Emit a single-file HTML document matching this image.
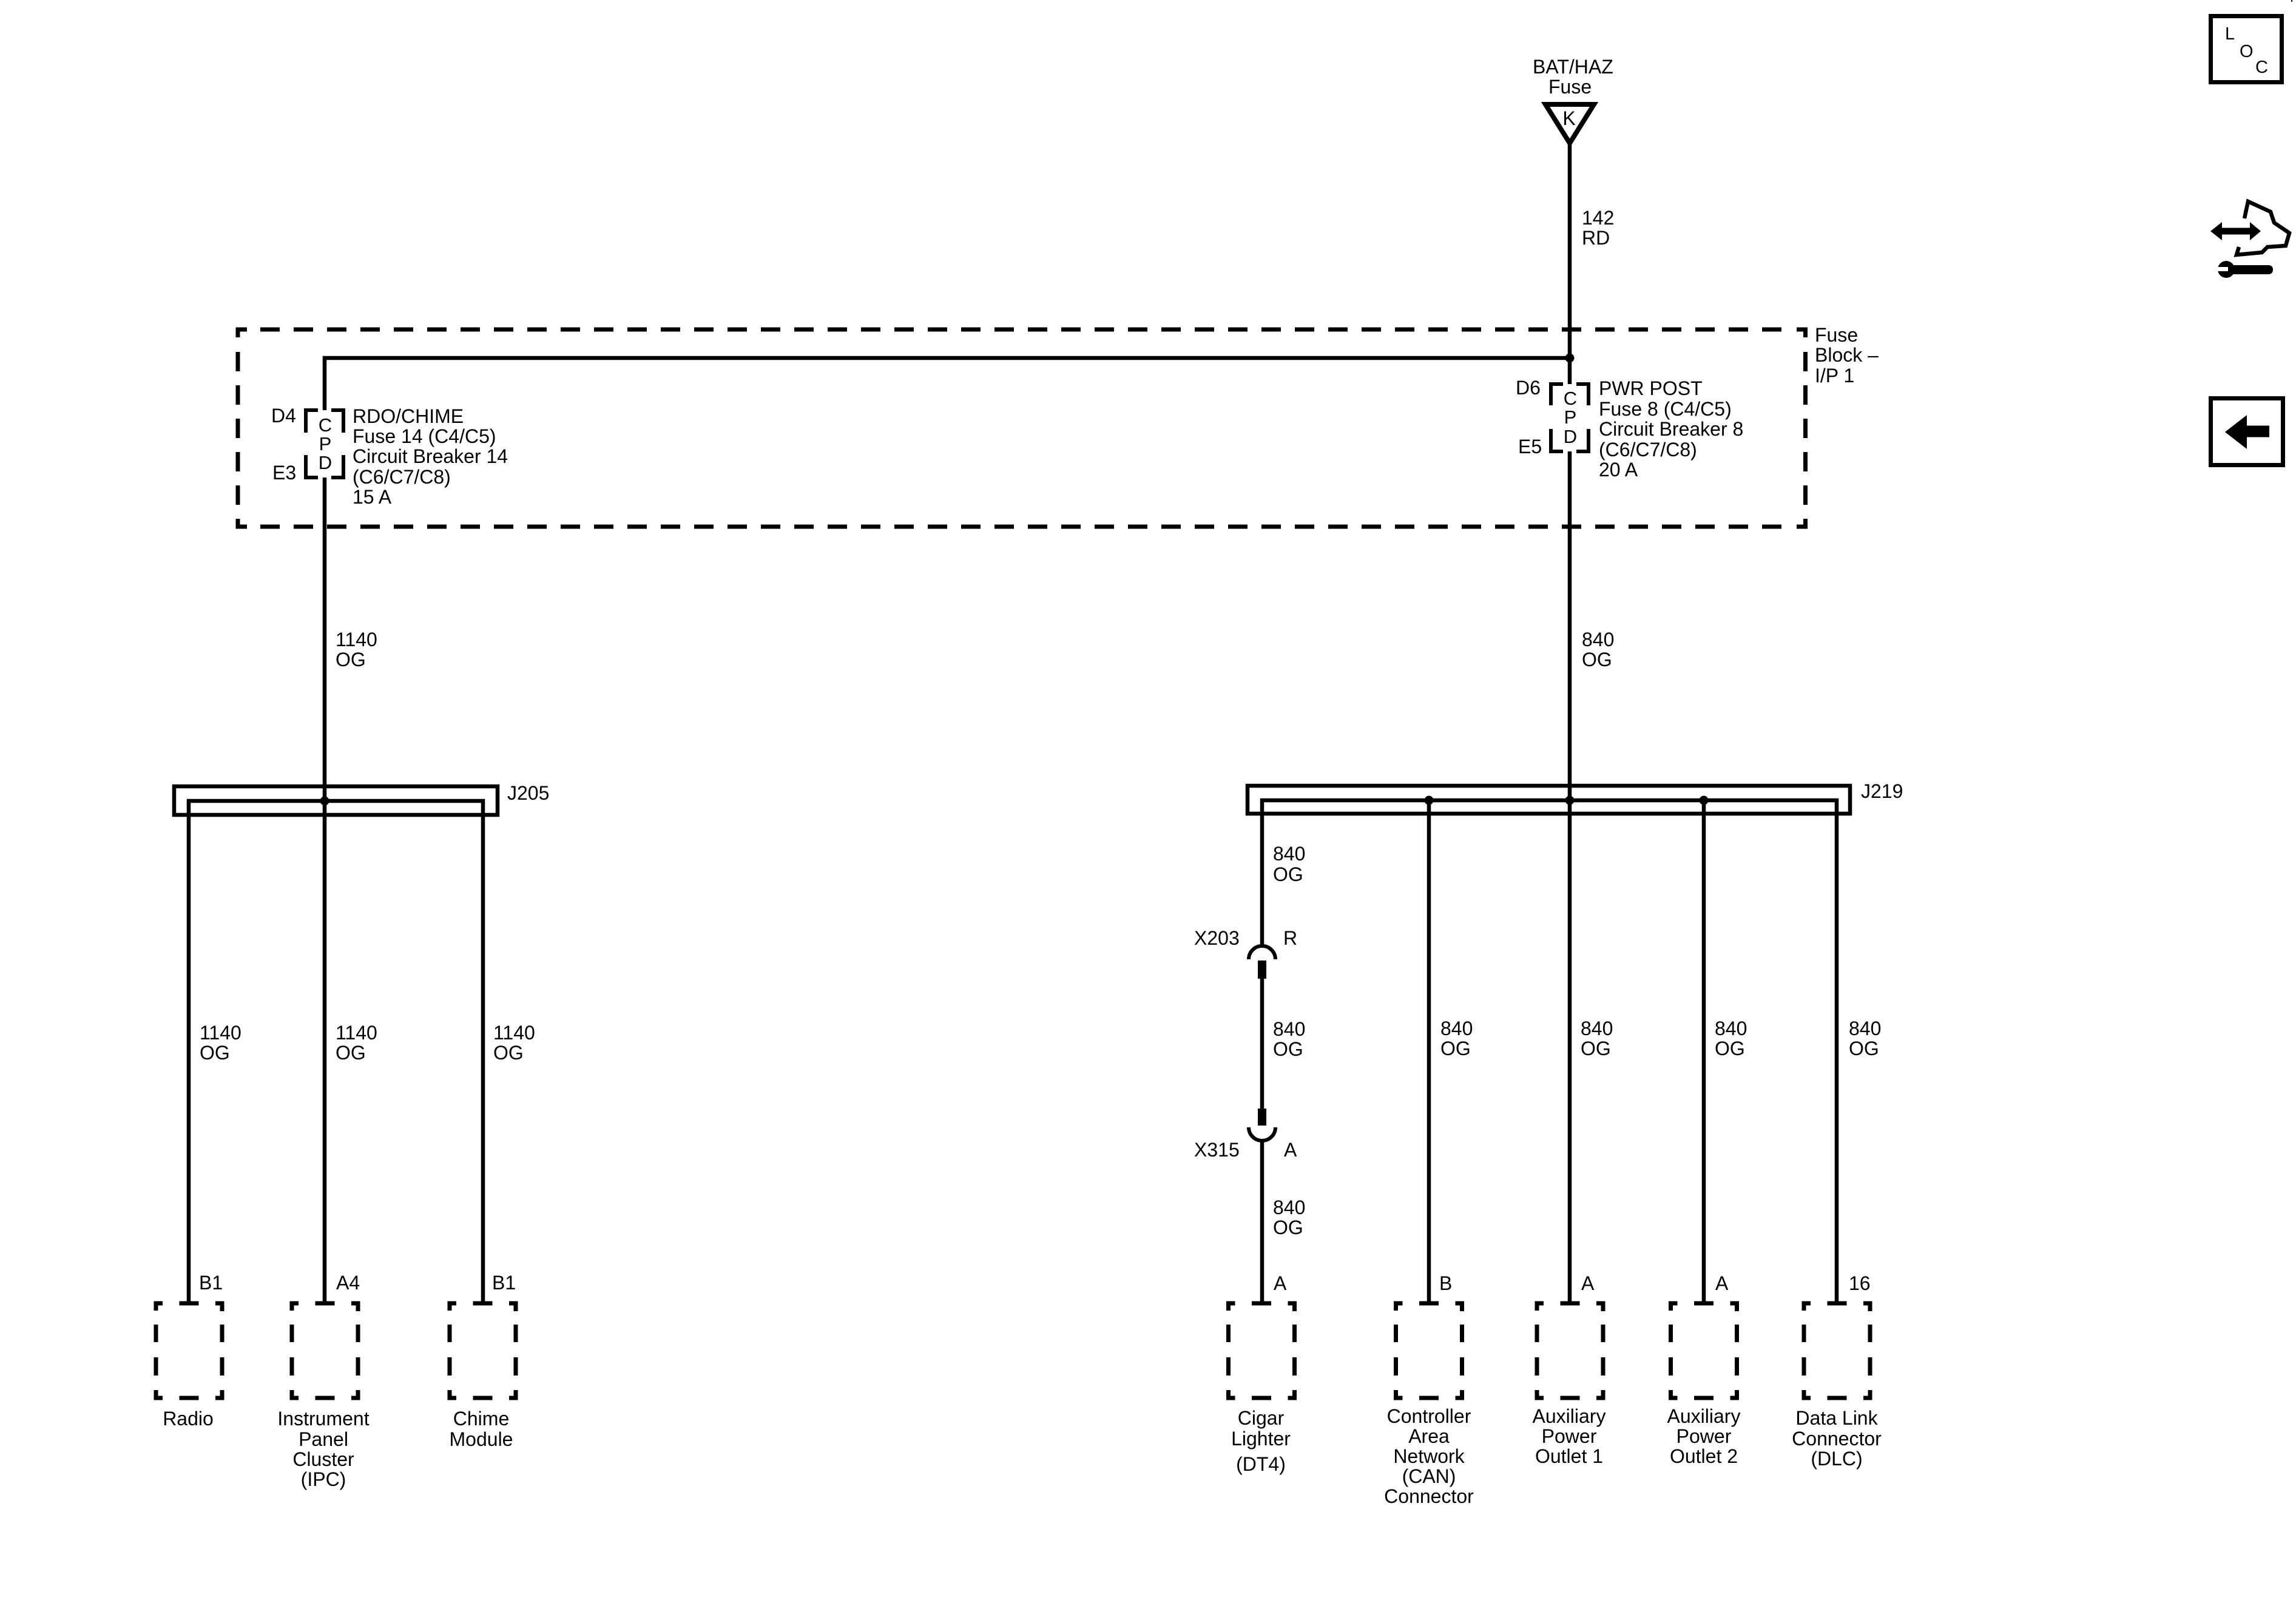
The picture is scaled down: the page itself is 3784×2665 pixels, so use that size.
<!DOCTYPE html>
<html>
<head>
<meta charset="utf-8">
<style>
html,body{margin:0;padding:0;background:#fff;}
svg{display:block;}
text{font-family:"Liberation Sans",Arial,Helvetica,sans-serif;font-size:32px;fill:#000;}
.c{text-anchor:middle;}
</style>
</head>
<body>
<svg width="3784" height="2665" viewBox="0 0 3784 2665" xmlns="http://www.w3.org/2000/svg">
<rect x="0" y="0" width="3784" height="2665" fill="#fff"/>

<!-- ===== Top source: BAT/HAZ fuse ===== -->
<text x="2526" y="121">BAT/HAZ</text>
<text x="2552" y="154">Fuse</text>
<polygon points="2547,172 2627,172 2587,236" fill="none" stroke="#000" stroke-width="8" stroke-linejoin="miter"/>
<text x="2586" y="206" class="c">K</text>
<line x1="2587" y1="238" x2="2587" y2="633" stroke="#000" stroke-width="6.5"/>
<text x="2607" y="370">142</text>
<text x="2607" y="403">RD</text>

<!-- ===== Fuse block dashed outline ===== -->
<g stroke="#000" stroke-width="7" fill="none">
  <line x1="429" y1="543" x2="2937" y2="543" stroke-dasharray="32 23"/>
  <line x1="429" y1="868" x2="2937" y2="868" stroke-dasharray="32 23"/>
  <line x1="392" y1="580" x2="392" y2="832" stroke-dasharray="32 23"/>
  <line x1="2975.5" y1="580" x2="2975.5" y2="832" stroke-dasharray="32 23"/>
  <path d="M392,556 V543 H407"/>
  <path d="M2961,543 H2975.5 V556"/>
  <path d="M392,855 V868 H407"/>
  <path d="M2961,868 H2975.5 V855"/>
</g>
<text x="2991" y="563">Fuse</text>
<text x="2991" y="596">Block –</text>
<text x="2991" y="630">I/P 1</text>

<!-- internal bus -->
<path d="M535,676 V590 H2587" fill="none" stroke="#000" stroke-width="6.5" stroke-linejoin="miter"/>
<circle cx="2587" cy="590" r="7.5" fill="#000"/>

<!-- Left fuse (RDO/CHIME) -->
<g stroke="#000" stroke-width="6" fill="none">
  <path d="M504,713 V676 H524"/>
  <path d="M546,676 H566 V713"/>
  <path d="M504,750 V787 H524"/>
  <path d="M546,787 H566 V750"/>
</g>
<text x="536" y="711" class="c" style="font-size:31px">C</text>
<text x="536" y="742" class="c" style="font-size:31px">P</text>
<text x="536" y="773" class="c" style="font-size:31px">D</text>
<text x="447" y="696">D4</text>
<text x="449" y="790">E3</text>
<text x="581" y="697">RDO/CHIME</text>
<text x="581" y="730">Fuse 14 (C4/C5)</text>
<text x="581" y="763">Circuit Breaker 14</text>
<text x="581" y="797">(C6/C7/C8)</text>
<text x="581" y="830">15 A</text>

<!-- Right fuse (PWR POST) -->
<g stroke="#000" stroke-width="6" fill="none">
  <path d="M2556,668 V633 H2576"/>
  <path d="M2598,633 H2618 V668"/>
  <path d="M2556,707 V744 H2576"/>
  <path d="M2598,744 H2618 V707"/>
</g>
<text x="2588" y="667" class="c" style="font-size:31px">C</text>
<text x="2588" y="698" class="c" style="font-size:31px">P</text>
<text x="2588" y="730" class="c" style="font-size:31px">D</text>
<text x="2498" y="650">D6</text>
<text x="2502" y="747">E5</text>
<text x="2635" y="651">PWR POST</text>
<text x="2635" y="685">Fuse 8 (C4/C5)</text>
<text x="2635" y="718">Circuit Breaker 8</text>
<text x="2635" y="752">(C6/C7/C8)</text>
<text x="2635" y="785">20 A</text>

<!-- main vertical wires -->
<line x1="535" y1="787" x2="535" y2="2148" stroke="#000" stroke-width="6.5"/>
<line x1="2587" y1="744" x2="2587" y2="2148" stroke="#000" stroke-width="6.5"/>
<text x="553" y="1065">1140</text>
<text x="553" y="1098">OG</text>
<text x="2607" y="1065">840</text>
<text x="2607" y="1098">OG</text>

<!-- ===== J205 ===== -->
<rect x="287" y="1296" width="533" height="47" fill="none" stroke="#000" stroke-width="6.5"/>
<path d="M311,2148 V1320 H796 V2148" fill="none" stroke="#000" stroke-width="6.5" stroke-linejoin="miter"/>
<circle cx="535" cy="1320" r="7.5" fill="#000"/>
<text x="836" y="1318">J205</text>
<text x="329" y="1713">1140</text><text x="329" y="1746">OG</text>
<text x="553" y="1713">1140</text><text x="553" y="1746">OG</text>
<text x="813" y="1713">1140</text><text x="813" y="1746">OG</text>

<!-- ===== J219 ===== -->
<rect x="2056" y="1295" width="993" height="46" fill="none" stroke="#000" stroke-width="6.5"/>
<path d="M2080,1558 V1319 H3027 V2148" fill="none" stroke="#000" stroke-width="6.5" stroke-linejoin="miter"/>
<line x1="2355" y1="1319" x2="2355" y2="2148" stroke="#000" stroke-width="6.5"/>
<line x1="2808" y1="1319" x2="2808" y2="2148" stroke="#000" stroke-width="6.5"/>
<circle cx="2355" cy="1319" r="7.5" fill="#000"/>
<circle cx="2587" cy="1319" r="7.5" fill="#000"/>
<circle cx="2808" cy="1319" r="7.5" fill="#000"/>
<text x="3067" y="1315">J219</text>

<!-- X203 / X315 inline connectors -->
<path d="M2058,1581 A22,22 0 0 1 2102,1581" fill="none" stroke="#000" stroke-width="6"/>
<rect x="2073" y="1583" width="14" height="30" fill="#000"/>
<line x1="2080" y1="1613" x2="2080" y2="1827" stroke="#000" stroke-width="6.5"/>
<rect x="2073" y="1827" width="14" height="28" fill="#000"/>
<path d="M2058,1858 A22,22 0 0 0 2102,1858" fill="none" stroke="#000" stroke-width="6"/>
<line x1="2080" y1="1880" x2="2080" y2="2148" stroke="#000" stroke-width="6.5"/>

<text x="2098" y="1418">840</text><text x="2098" y="1452">OG</text>
<text x="1968" y="1557">X203</text>
<text x="2115" y="1557">R</text>
<text x="2098" y="1707">840</text><text x="2098" y="1740">OG</text>
<text x="1968" y="1906">X315</text>
<text x="2116" y="1906">A</text>
<text x="2098" y="2001">840</text><text x="2098" y="2034">OG</text>

<text x="2374" y="1706">840</text><text x="2374" y="1739">OG</text>
<text x="2605" y="1706">840</text><text x="2605" y="1739">OG</text>
<text x="2826" y="1706">840</text><text x="2826" y="1739">OG</text>
<text x="3047" y="1706">840</text><text x="3047" y="1739">OG</text>

<!-- ===== Component dashed boxes ===== -->
<defs>
  <g id="dbox" stroke="#000" stroke-width="7" fill="none">
    <path d="M-54.5,12 V0 H-43.5"/>
    <path d="M-16,0 H16"/>
    <path d="M43.5,0 H54.5 V13"/>
    <path d="M-54.5,35 V64"/>
    <path d="M-54.5,89 V119"/>
    <path d="M54.5,35 V64"/>
    <path d="M54.5,89 V119"/>
    <path d="M-54.5,143 V156 H-43.5"/>
    <path d="M-16,156 H16"/>
    <path d="M43.5,156 H54.5 V143"/>
  </g>
</defs>
<use href="#dbox" x="311.5" y="2148"/>
<use href="#dbox" x="535.5" y="2148"/>
<use href="#dbox" x="795.5" y="2148"/>
<use href="#dbox" x="2079" y="2148"/>
<use href="#dbox" x="2355" y="2148"/>
<use href="#dbox" x="2587.5" y="2148"/>
<use href="#dbox" x="2808" y="2148"/>
<use href="#dbox" x="3027.5" y="2148"/>

<!-- pin labels -->
<text x="328" y="2125">B1</text>
<text x="554" y="2125">A4</text>
<text x="811" y="2125">B1</text>
<text x="2099" y="2126">A</text>
<text x="2372" y="2126">B</text>
<text x="2606" y="2126">A</text>
<text x="2827" y="2126">A</text>
<text x="3047" y="2126">16</text>

<!-- component names -->
<text x="310" y="2349" class="c">Radio</text>

<text x="533" y="2349" class="c">Instrument</text>
<text x="533" y="2383" class="c">Panel</text>
<text x="533" y="2416" class="c">Cluster</text>
<text x="533" y="2449" class="c">(IPC)</text>

<text x="793" y="2349" class="c">Chime</text>
<text x="793" y="2383" class="c">Module</text>

<text x="2078" y="2348" class="c">Cigar</text>
<text x="2078" y="2382" class="c">Lighter</text>
<text x="2078" y="2424" class="c">(DT4)</text>

<text x="2355" y="2345" class="c">Controller</text>
<text x="2355" y="2378" class="c">Area</text>
<text x="2355" y="2411" class="c">Network</text>
<text x="2355" y="2444" class="c">(CAN)</text>
<text x="2355" y="2477" class="c">Connector</text>

<text x="2586" y="2345" class="c">Auxiliary</text>
<text x="2586" y="2378" class="c">Power</text>
<text x="2586" y="2411" class="c">Outlet 1</text>

<text x="2808" y="2345" class="c">Auxiliary</text>
<text x="2808" y="2378" class="c">Power</text>
<text x="2808" y="2411" class="c">Outlet 2</text>

<text x="3027" y="2348" class="c">Data Link</text>
<text x="3027" y="2382" class="c">Connector</text>
<text x="3027" y="2415" class="c">(DLC)</text>

<!-- ===== Right-side icons ===== -->
<rect x="3776" y="0" width="2" height="3" fill="#000"/>
<!-- LOC -->
<rect x="3643.5" y="26.5" width="117" height="109" fill="none" stroke="#000" stroke-width="7"/>
<text x="3667" y="65" style="font-size:29px">L</text>
<text x="3691" y="94" style="font-size:29px">O</text>
<text x="3717" y="120" style="font-size:29px">C</text>

<!-- hand / wrench icon -->
<polygon points="3643,381 3662,366 3662,375.5 3708,375.5 3708,366 3726,381 3708,396 3708,386.5 3662,386.5 3662,396" fill="#000"/>
<polyline points="3699,360 3705,332 3742,349 3748,367 3773,384 3767,405 3737,407 3728,416 3686,420 3690,407" fill="none" stroke="#000" stroke-width="6.5" stroke-linejoin="miter"/>
<circle cx="3669" cy="444" r="14" fill="#000"/>
<rect x="3674" y="437" width="72" height="15" rx="7" fill="#000"/>
<rect x="3652" y="440" width="20" height="7" fill="#fff"/>

<!-- back arrow -->
<rect x="3643.5" y="656.5" width="119" height="110" fill="none" stroke="#000" stroke-width="7"/>
<polygon points="3667,712 3703,684 3703,701.5 3740,701.5 3740,720.5 3703,720.5 3703,740" fill="#000"/>
</svg>
</body>
</html>
